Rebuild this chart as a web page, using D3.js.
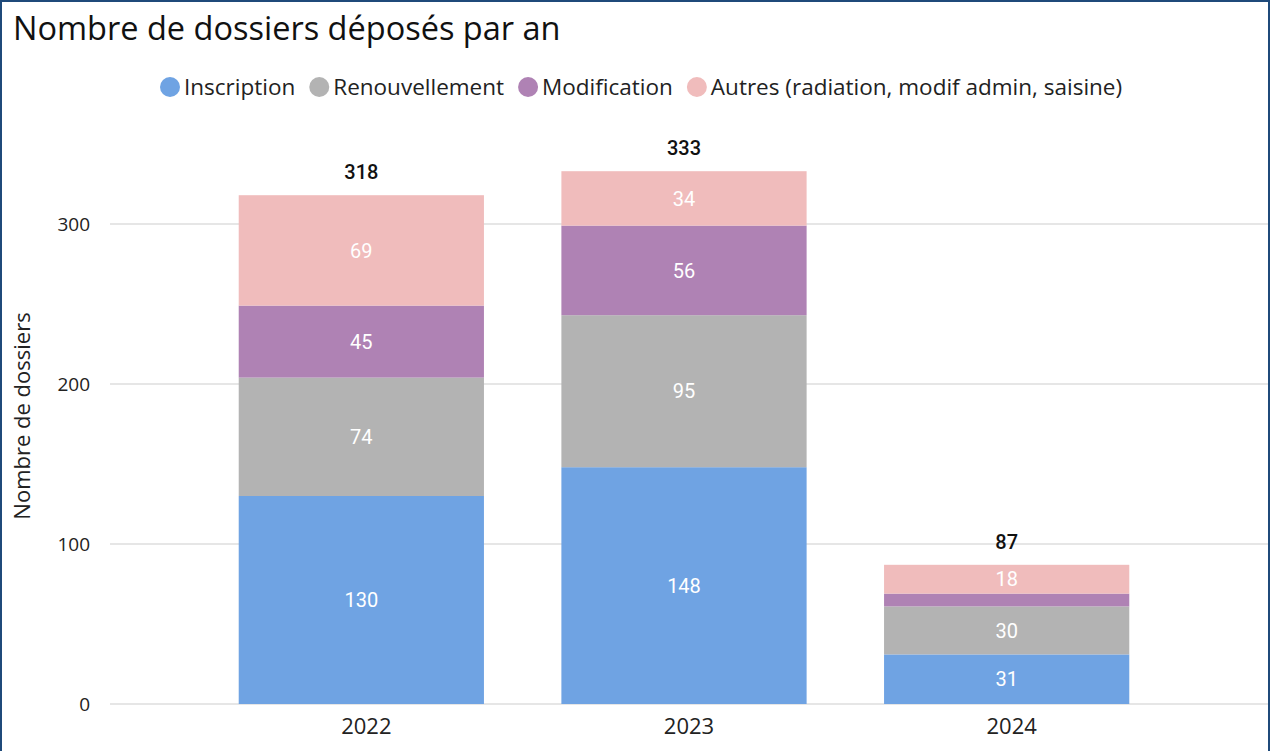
<!DOCTYPE html>
<html>
<head>
<meta charset="utf-8">
<script src="https://cdn.jsdelivr.net/npm/d3@7"></script>
<style>
  body { margin: 0; background: #fff; }
  svg { display: block; }
  .frame { fill: none; stroke: #1f4a7a; stroke-width: 2; }
  .title { font-family: "Open Sans", sans-serif; font-size: 32.5px; fill: #111; }
  .legend text { font-family: "Open Sans", sans-serif; font-size: 22.5px; fill: #222; }
  .tick text { font-family: "Open Sans", sans-serif; fill: #222; }
  .grid line { stroke: #e6e6e6; stroke-width: 2; }
  .ylabel { font-family: "Open Sans", sans-serif; font-size: 22px; fill: #222; }
  .seglabel { font-family: Roboto, sans-serif; font-size: 20px; fill: #fff; }
  .totlabel { font-family: Roboto, sans-serif; font-size: 20px; font-weight: 500; fill: #111; }
</style>
</head>
<body>
<script>
// chart data
var years = ["2022", "2023", "2024"];
var series = ["Inscription", "Renouvellement", "Modification", "Autres (radiation, modif admin, saisine)"];
var inscription = [130, 148, 31];
var renouvellement = [74, 95, 30];
var modification = [45, 56, 8];
var autres = [69, 34, 18];
var yTicks = [0, 100, 200, 300];
var colors = ["#6fa3e3", "#b3b3b3", "#af82b4", "#f0bcbc"];

var width = 1270, height = 751;

var svg = d3.select("body").append("svg")
    .attr("width", width)
    .attr("height", height);

// frame round the visual
svg.append("path")
    .attr("class", "frame")
    .attr("d", "M1,752 V1 H1269 V752");

svg.append("text")
    .attr("class", "title")
    .attr("x", 13)
    .attr("y", 40)
    .text("Nombre de dossiers déposés par an");

// build rows for the stack
var rows = years.map(function(y, i){
    return {year: y, s0: inscription[i], s1: renouvellement[i], s2: modification[i], s3: autres[i]};
});
var stack = d3.stack().keys(["s0", "s1", "s2", "s3"]);
var stacked = stack(rows);

var x = d3.scaleBand()
    .domain(years)
    .range([200, 1168])
    .paddingInner(0.24)
    .paddingOuter(0.12);

var y = d3.scaleLinear()
    .domain([0, 300])
    .range([704, 224]);

// gridlines
svg.append("g")
    .attr("class", "grid")
    .selectAll("line")
    .data(yTicks)
    .enter()
    .append("line")
    .attr("x1", 110)
    .attr("x2", 1268)
    .attr("y1", function(d){ return y(d); })
    .attr("y2", function(d){ return y(d); });

// y axis labels
var yAxis = svg.append("g")
    .attr("transform", "translate(90,0)")
    .call(d3.axisLeft(y).tickValues(yTicks).tickSize(0).tickPadding(0));
yAxis.select(".domain").remove();
yAxis.selectAll("text").style("font-size", "19px");

// x axis labels (sit a touch right of bar centres in the original)
var xAxis = svg.append("g")
    .attr("transform", "translate(5,713)")
    .call(d3.axisBottom(x).tickSize(0).tickPadding(0));
xAxis.select(".domain").remove();
xAxis.selectAll("text").style("font-size", "22px").attr("dy", "0.95em");

svg.append("text")
    .attr("class", "ylabel")
    .attr("transform", "translate(30,416) rotate(-90)")
    .attr("text-anchor", "middle")
    .text("Nombre de dossiers");

// bars
var layers = svg.selectAll(".layer")
    .data(stacked)
    .enter()
    .append("g")
    .attr("class", "layer")
    .attr("fill", function(d, i){ return colors[i]; });

layers.selectAll("rect")
    .data(function(d){ return d; })
    .enter()
    .append("rect")
    .attr("x", function(d){ return x(d.data.year); })
    .attr("width", x.bandwidth())
    .attr("y", function(d){ return y(d[1]); })
    .attr("height", function(d){ return y(d[0]) - y(d[1]); });

// segment labels (skip tiny segments)
layers.selectAll("text")
    .data(function(d){ return d; })
    .enter()
    .filter(function(d){ return (d[1] - d[0]) >= 12; })
    .append("text")
    .attr("class", "seglabel")
    .attr("text-anchor", "middle")
    .attr("dy", "0.36em")
    .attr("x", function(d){ return x(d.data.year) + x.bandwidth() / 2; })
    .attr("y", function(d){ return (y(d[0]) + y(d[1])) / 2; })
    .text(function(d){ return d[1] - d[0]; });

// totals
svg.selectAll(".totlabel")
    .data(rows)
    .enter()
    .append("text")
    .attr("class", "totlabel")
    .attr("text-anchor", "middle")
    .attr("x", function(d){ return x(d.year) + x.bandwidth() / 2; })
    .attr("y", function(d){ return y(d.s0 + d.s1 + d.s2 + d.s3) - 16; })
    .text(function(d){ return d.s0 + d.s1 + d.s2 + d.s3; });

// legend, laid out from measured text widths
var legend = svg.append("g").attr("class", "legend");
var lx = 160;
series.forEach(function(name, i){
    var g = legend.append("g").attr("transform", "translate(" + lx + ",87)");
    g.append("circle").attr("cx", 10).attr("cy", 0).attr("r", 10).attr("fill", colors[i]);
    var t = g.append("text").attr("x", 24).attr("dy", "0.35em").text(name);
    lx += 24 + t.node().getComputedTextLength() + 14;
});
</script>
</body>
</html>
